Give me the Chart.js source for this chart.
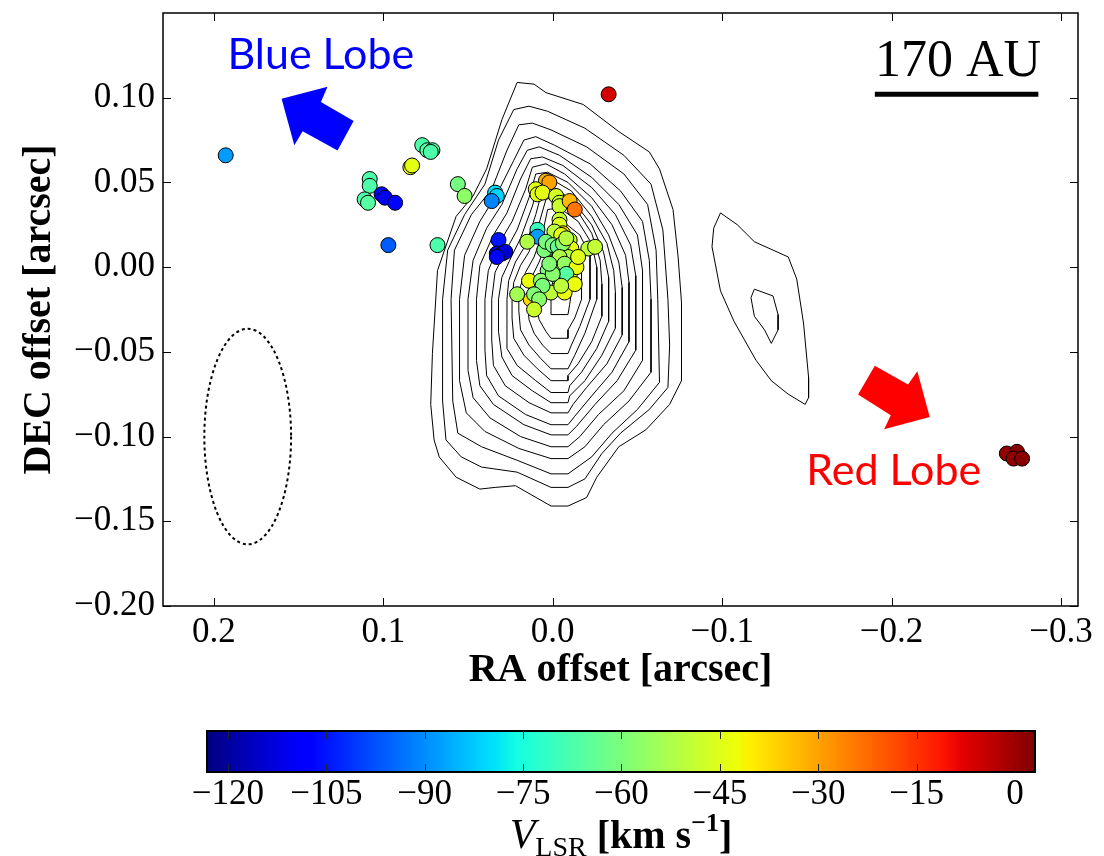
<!DOCTYPE html>
<html>
<head>
<meta charset="utf-8">
<script src="https://cdn.jsdelivr.net/npm/chart.js@4.4.1/dist/chart.umd.min.js"></script>
<style>
  html, body { margin: 0; padding: 0; background: #fff; }
  #wrap { position: relative; width: 1104px; height: 856px; }
  #main { position: absolute; left: 0; top: 0; }
  #cbar { position: absolute; left: 0; top: 700px; }
</style>
</head>
<body>
<div id="wrap">
  <canvas id="main" width="1104" height="700"></canvas>
  <canvas id="cbar" width="1104" height="156"></canvas>
</div>
<script>
// axis ticks
const xTicks = [0.2, 0.1, 0.0, -0.1, -0.2, -0.3];
const xTickLabels = ['0.2', '0.1', '0.0', '\u22120.1', '\u22120.2', '\u22120.3'];
const yTicks = [0.10, 0.05, 0.00, -0.05, -0.10, -0.15, -0.20];
const yTickLabels = ['0.10', '0.05', '0.00', '\u22120.05', '\u22120.10', '\u22120.15', '\u22120.20'];
const velTicks = [-120, -105, -90, -75, -60, -45, -30, -15, 0];
const velTickLabels = ['\u2212120', '\u2212105', '\u221290', '\u221275', '\u221260', '\u221245', '\u221230', '\u221215', '0'];

// colour range of V_LSR [km/s]
const VMIN = -123.2, VMAX = 3.05;

// maser spots: RA offset, DEC offset [arcsec], V_LSR [km/s]
const spotRA = [0.193, 0.108, 0.108, 0.111, 0.109, 0.101, 0.099, 0.093, 0.097, 0.068,
  0.084, 0.083, 0.077, 0.074, 0.071, 0.072, 0.056, 0.052, 0.034, 0.033,
  0.036, 0.032, 0.033, 0.030, 0.028, 0.033, 0.004, 0.002, 0.010, 0.009,
  0.006, -0.002, -0.004, -0.004, -0.010, -0.013, -0.004, -0.004, -0.006,
  -0.001, -0.005, -0.010, -0.011, -0.009, -0.001, -0.006, -0.010, -0.003, 0.003, 0.001, -0.007, 0.005,
  0.009, 0.009, 0.015, 0.004, 0.000, -0.003, -0.006, -0.008, -0.021, -0.025, -0.004,
  -0.007, -0.014, -0.015, -0.008, -0.013, -0.005, 0.014, 0.013, 0.007, 0.006,
  0.011, 0.008, 0.021, 0.011, 0.000, 0.002, -0.033, -0.268, -0.274, -0.272, -0.277];
const spotDEC = [0.066, 0.052, 0.048, 0.040, 0.038, 0.043, 0.041, 0.038, 0.013, 0.013,
  0.059, 0.060, 0.072, 0.069, 0.069, 0.068, 0.049, 0.042, 0.044, 0.042,
  0.039, 0.016, 0.008, 0.008, 0.009, 0.006, 0.051, 0.050, 0.046, 0.043,
  0.044, 0.042, 0.038, 0.036, 0.039, 0.034, 0.028, 0.025, 0.020,
  0.021, 0.019, 0.016, 0.011, 0.006, 0.003, 0.000, -0.005, -0.006, -0.002, -0.015, -0.015, 0.010,
  0.022, 0.018, 0.015, 0.015, 0.013, 0.012, 0.014, 0.017, 0.011, 0.012, 0.006,
  0.002, 0.000, 0.006, -0.004, -0.010, -0.011, -0.008, -0.019, -0.008, -0.011,
  -0.016, -0.019, -0.016, -0.025, -0.004, 0.002, 0.102, -0.110, -0.109, -0.113, -0.113];
const spotVel = [-88, -67, -67, -67, -66, -109, -110, -107, -96, -67,
  -43, -44, -67, -66, -66, -67, -61, -57, -80, -81,
  -91, -105, -112, -113, -114, -108, -32, -30, -44, -45,
  -44, -47, -49, -48, -33, -24, -49, -45, -37,
  -50, -44, -49, -44, -51, -58, -53, -44, -59, -60, -50, -43, -60,
  -70, -88, -52, -61, -60, -64, -58, -51, -50, -49, -52,
  -56, -43, -45, -66, -43, -50, -43, -37, -58, -60,
  -59, -58, -54, -48, -58, -59, -6, 1, 2, 1, 2];

// continuum contours around the core [RA, DEC]
const coreContours = [
  [[0.021,0.109],[0.011,0.108],[0.004,0.103],[-0.018,0.096],[-0.039,0.080],[-0.057,0.068],[-0.063,0.058],[-0.071,0.034],[-0.074,0.006],[-0.076,-0.021],[-0.076,-0.067],[-0.069,-0.081],[-0.055,-0.096],[-0.039,-0.106],[-0.026,-0.124],[-0.020,-0.136],[-0.009,-0.141],[0.001,-0.141],[0.022,-0.129],[0.034,-0.130],[0.043,-0.131],[0.057,-0.124],[0.067,-0.112],[0.070,-0.102],[0.072,-0.081],[0.071,-0.051],[0.068,-0.002],[0.057,0.030],[0.047,0.042],[0.039,0.058],[0.030,0.087]],
  [[0.023,0.093],[0.014,0.095],[0.003,0.092],[-0.019,0.082],[-0.042,0.066],[-0.058,0.049],[-0.065,0.022],[-0.068,-0.019],[-0.069,-0.046],[-0.068,-0.071],[-0.057,-0.084],[-0.040,-0.098],[-0.029,-0.110],[-0.019,-0.125],[-0.009,-0.130],[0.001,-0.130],[0.021,-0.121],[0.042,-0.118],[0.054,-0.112],[0.063,-0.102],[0.065,-0.079],[0.065,-0.019],[0.062,0.010],[0.052,0.031],[0.040,0.049],[0.032,0.075]],
  [[0.020,0.084],[0.012,0.085],[0.001,0.081],[-0.020,0.071],[-0.042,0.055],[-0.056,0.037],[-0.061,0.010],[-0.062,-0.019],[-0.063,-0.068],[-0.050,-0.084],[-0.035,-0.098],[-0.023,-0.112],[-0.009,-0.122],[0.001,-0.122],[0.021,-0.114],[0.042,-0.106],[0.056,-0.098],[0.059,-0.079],[0.060,-0.019],[0.058,0.010],[0.048,0.031],[0.036,0.046],[0.027,0.069]],
  [[0.017,0.075],[0.010,0.077],[-0.001,0.072],[-0.022,0.061],[-0.040,0.045],[-0.053,0.027],[-0.057,0.004],[-0.058,-0.019],[-0.058,-0.062],[-0.045,-0.079],[-0.030,-0.093],[-0.019,-0.106],[-0.009,-0.113],[0.001,-0.113],[0.020,-0.107],[0.040,-0.097],[0.051,-0.086],[0.055,-0.067],[0.055,-0.019],[0.052,0.007],[0.043,0.027],[0.033,0.043],[0.023,0.063]],
  [[0.015,0.069],[0.008,0.071],[-0.004,0.066],[-0.023,0.053],[-0.039,0.037],[-0.050,0.019],[-0.053,-0.002],[-0.053,-0.019],[-0.053,-0.055],[-0.042,-0.073],[-0.027,-0.087],[-0.016,-0.100],[-0.009,-0.106],[0.001,-0.106],[0.019,-0.100],[0.037,-0.089],[0.047,-0.077],[0.050,-0.061],[0.050,-0.019],[0.047,0.004],[0.039,0.023],[0.030,0.037],[0.021,0.058]],
  [[0.013,0.064],[0.006,0.065],[-0.006,0.060],[-0.023,0.047],[-0.037,0.031],[-0.046,0.013],[-0.049,-0.005],[-0.049,-0.019],[-0.049,-0.049],[-0.038,-0.067],[-0.025,-0.081],[-0.014,-0.094],[-0.009,-0.099],[0.001,-0.099],[0.017,-0.093],[0.035,-0.081],[0.043,-0.070],[0.045,-0.055],[0.045,-0.019],[0.043,0.001],[0.035,0.019],[0.027,0.032],[0.019,0.052]],
  [[0.012,0.059],[0.004,0.061],[-0.007,0.055],[-0.023,0.041],[-0.035,0.025],[-0.043,0.007],[-0.045,-0.009],[-0.045,-0.019],[-0.045,-0.044],[-0.035,-0.062],[-0.023,-0.076],[-0.013,-0.088],[-0.009,-0.093],[0.001,-0.093],[0.016,-0.087],[0.032,-0.076],[0.039,-0.064],[0.040,-0.049],[0.040,-0.019],[0.038,-0.002],[0.031,0.015],[0.024,0.027],[0.016,0.046]],
  [[0.010,0.055],[0.003,0.056],[-0.009,0.050],[-0.023,0.036],[-0.033,0.019],[-0.039,0.003],[-0.041,-0.012],[-0.041,-0.019],[-0.041,-0.040],[-0.032,-0.057],[-0.020,-0.071],[-0.012,-0.081],[-0.009,-0.086],[0.001,-0.086],[0.014,-0.080],[0.028,-0.070],[0.035,-0.058],[0.036,-0.043],[0.036,-0.019],[0.034,-0.003],[0.027,0.011],[0.021,0.022],[0.014,0.041]],
  [[0.008,0.050],[0.001,0.052],[-0.011,0.045],[-0.023,0.030],[-0.032,0.014],[-0.036,-0.002],[-0.037,-0.015],[-0.037,-0.019],[-0.037,-0.036],[-0.029,-0.052],[-0.019,-0.067],[-0.010,-0.076],[-0.009,-0.080],[0.001,-0.080],[0.012,-0.073],[0.024,-0.064],[0.030,-0.053],[0.032,-0.038],[0.032,-0.019],[0.030,-0.006],[0.024,0.007],[0.019,0.017],[0.012,0.036]],
  [[0.006,0.046],[-0.001,0.047],[-0.012,0.039],[-0.023,0.025],[-0.030,0.009],[-0.033,-0.006],[-0.033,-0.019],[-0.033,-0.032],[-0.026,-0.048],[-0.017,-0.062],[-0.010,-0.070],[-0.009,-0.074],[0.001,-0.074],[0.010,-0.067],[0.021,-0.058],[0.027,-0.048],[0.027,-0.034],[0.027,-0.019],[0.026,-0.008],[0.022,0.003],[0.016,0.013],[0.010,0.031]],
  [[0.004,0.040],[-0.003,0.042],[-0.014,0.034],[-0.023,0.020],[-0.028,0.004],[-0.029,-0.010],[-0.029,-0.019],[-0.029,-0.029],[-0.023,-0.044],[-0.015,-0.057],[-0.009,-0.064],[-0.009,-0.067],[0.001,-0.067],[0.009,-0.060],[0.017,-0.052],[0.023,-0.042],[0.024,-0.030],[0.024,-0.019],[0.023,-0.009],[0.019,0.001],[0.014,0.009],[0.008,0.026]],
  [[0.003,0.034],[-0.004,0.035],[-0.015,0.027],[-0.023,0.014],[-0.026,0.000],[-0.026,-0.019],[-0.019,-0.039],[-0.013,-0.052],[-0.009,-0.060],[0.001,-0.060],[0.007,-0.054],[0.014,-0.046],[0.019,-0.037],[0.020,-0.026],[0.020,-0.019],[0.019,-0.011],[0.016,-0.003],[0.011,0.006],[0.006,0.020]],
  [[0.000,0.026],[-0.006,0.027],[-0.016,0.019],[-0.022,0.007],[-0.022,-0.008],[-0.022,-0.019],[-0.016,-0.035],[-0.011,-0.046],[-0.009,-0.051],[0.001,-0.051],[0.006,-0.046],[0.011,-0.039],[0.014,-0.031],[0.015,-0.019],[0.014,-0.012],[0.012,-0.005],[0.008,0.003],[0.004,0.014]],
  [[-0.002,0.015],[-0.008,0.016],[-0.015,0.009],[-0.017,-0.002],[-0.017,-0.019],[-0.013,-0.030],[-0.009,-0.037],[-0.009,-0.042],[0.001,-0.042],[0.004,-0.038],[0.008,-0.031],[0.010,-0.022],[0.011,-0.019],[0.010,-0.010],[0.007,-0.003],[0.001,0.006]],
  [[0.000,-0.009],[-0.007,-0.008],[-0.011,-0.015],[-0.010,-0.022],[-0.009,-0.028],[0.001,-0.028],[0.001,-0.019],[0.001,-0.013]]
];
// weaker emission to the west
const westContours = [
  [[-0.099,0.032],[-0.109,0.025],[-0.119,0.015],[-0.139,0.006],[-0.144,-0.007],[-0.148,-0.033],[-0.151,-0.065],[-0.151,-0.077],[-0.149,-0.081],[-0.144,-0.078],[-0.139,-0.075],[-0.129,-0.067],[-0.120,-0.055],[-0.107,-0.032],[-0.099,-0.014],[-0.094,0.012],[-0.095,0.023]],
  [[-0.119,-0.013],[-0.130,-0.017],[-0.133,-0.028],[-0.133,-0.037],[-0.129,-0.045],[-0.125,-0.037],[-0.119,-0.029],[-0.117,-0.018]]
];

// annotations (data coordinates)
const beamCenter = [0.180, -0.100];
const beamSemiAxes = [0.0256, 0.0636];
const blueArrow = [[0.160,0.0994],[0.1329,0.1065],[0.1368,0.0974],[0.1175,0.0862],[0.127,0.0688],[0.1476,0.0802],[0.1525,0.072]];
const redArrow = [[-0.1901,-0.0582],[-0.2097,-0.0692],[-0.2152,-0.0614],[-0.2225,-0.0884],[-0.1956,-0.0957],[-0.1995,-0.0874],[-0.1802,-0.0751]];
const scaleBar = [[-0.1901, 0.102], [-0.2866, 0.102]];

const JET = {
  r: [[0, 0], [0.35, 0], [0.66, 1], [0.89, 1], [1, 0.5]],
  g: [[0, 0], [0.125, 0], [0.375, 1], [0.64, 1], [0.91, 0], [1, 0]],
  b: [[0, 0.5], [0.11, 1], [0.34, 1], [0.65, 0], [1, 0]]
};

function interp(stops, t) {
  for (let i = 1; i < stops.length; i++) {
    if (t <= stops[i][0]) {
      const [t0, v0] = stops[i - 1], [t1, v1] = stops[i];
      return v0 + (v1 - v0) * (t - t0) / (t1 - t0);
    }
  }
  return stops[stops.length - 1][1];
}

function jet(t) {
  t = Math.min(1, Math.max(0, t));
  const c = k => Math.round(255 * interp(JET[k], t));
  return `rgb(${c('r')},${c('g')},${c('b')})`;
}

function velColor(v) {
  return jet((v - VMIN) / (VMAX - VMIN));
}

const SERIF = '"Liberation Serif", "Times New Roman", serif';

const contourSets = coreContours.concat(westContours).map(poly => ({
  data: poly.concat([poly[0]]).map(([x, y]) => ({x, y})),
  showLine: true,
  borderColor: '#000',
  borderWidth: 1,
  pointRadius: 0,
  pointHoverRadius: 0,
  tension: 0,
  fill: false,
  order: 2
}));

const spotSet = {
  data: spotRA.map((x, i) => ({x, y: spotDEC[i]})),
  pointRadius: 7.5,
  pointHoverRadius: 7.5,
  pointBorderWidth: 1,
  pointBorderColor: '#000',
  pointBackgroundColor: c => velColor(spotVel[c.dataIndex]),
  order: 0
};

// Frame, inward ticks and annotations
const mainFrame = {
  id: 'mainFrame',
  afterDatasetsDraw(chart) {
    const {ctx, chartArea: a, scales: {x, y}} = chart;
    const px = v => x.getPixelForValue(v);
    const py = v => y.getPixelForValue(v);
    ctx.save();

    // beam
    ctx.beginPath();
    ctx.ellipse(px(beamCenter[0]), py(beamCenter[1]),
      Math.abs(px(beamCenter[0] + beamSemiAxes[0]) - px(beamCenter[0])),
      Math.abs(py(beamCenter[1] + beamSemiAxes[1]) - py(beamCenter[1])),
      0, 0, 2 * Math.PI);
    ctx.setLineDash([3, 3]);
    ctx.lineWidth = 2;
    ctx.strokeStyle = '#000';
    ctx.stroke();
    ctx.setLineDash([]);

    // lobe arrows
    [[blueArrow, '#0000ff'], [redArrow, '#ff0000']].forEach(([poly, col]) => {
      ctx.beginPath();
      poly.forEach(([u, v], i) => i ? ctx.lineTo(px(u), py(v)) : ctx.moveTo(px(u), py(v)));
      ctx.closePath();
      ctx.fillStyle = col;
      ctx.fill();
    });

    ctx.font = '43px Lato, "Liberation Sans", sans-serif';
    ctx.textAlign = 'left';
    ctx.textBaseline = 'alphabetic';
    ctx.fillStyle = '#0000ff';
    ctx.fillText('Blue Lobe', px(0.192), py(0.1167));
    ctx.fillStyle = '#ff0000';
    ctx.fillText('Red Lobe', px(-0.1496), py(-0.1288));

    // scale bar
    ctx.beginPath();
    ctx.moveTo(px(scaleBar[0][0]), py(scaleBar[0][1]));
    ctx.lineTo(px(scaleBar[1][0]), py(scaleBar[1][1]));
    ctx.lineWidth = 5;
    ctx.strokeStyle = '#000';
    ctx.stroke();
    ctx.font = '52px ' + SERIF;
    ctx.textAlign = 'center';
    ctx.fillStyle = '#000';
    ctx.fillText('170 AU', px(-0.2392), py(0.1126));

    // frame
    ctx.lineWidth = 1.5;
    ctx.strokeRect(a.left, a.top, a.right - a.left, a.bottom - a.top);
    ctx.lineWidth = 1;
    ctx.beginPath();
    xTicks.forEach(v => {
      const p = Math.round(px(v)) + 0.5;
      ctx.moveTo(p, a.bottom); ctx.lineTo(p, a.bottom - 8);
      ctx.moveTo(p, a.top); ctx.lineTo(p, a.top + 8);
    });
    yTicks.forEach(v => {
      const p = Math.round(py(v)) + 0.5;
      ctx.moveTo(a.left, p); ctx.lineTo(a.left + 8, p);
      ctx.moveTo(a.right, p); ctx.lineTo(a.right - 8, p);
    });
    ctx.stroke();
    ctx.restore();
  }
};

new Chart(document.getElementById('main'), {
  type: 'scatter',
  data: { datasets: [spotSet].concat(contourSets) },
  options: {
    responsive: false,
    animation: false,
    events: [],
    layout: { padding: { top: 13, right: 26, left: 0, bottom: 0 } },
    plugins: { legend: { display: false }, tooltip: { enabled: false } },
    scales: {
      x: {
        type: 'linear',
        reverse: true,
        min: -0.31,
        max: 0.23,
        afterBuildTicks: s => { s.ticks = xTicks.map(v => ({value: v})); },
        afterFit: s => { s.height = 94; s.paddingLeft = 0; s.paddingRight = 0; },
        grid: { display: false, drawTicks: false },
        border: { display: false },
        ticks: {
          autoSkip: false, maxRotation: 0, minRotation: 0, padding: 6,
          color: '#000',
          font: { family: SERIF, size: 35 },
          callback: (v, i) => xTickLabels[i]
        },
        title: {
          display: true, text: 'RA offset [arcsec]', color: '#000',
          font: { family: SERIF, size: 40, weight: 'bold' },
          padding: { top: 0, bottom: 5 }
        }
      },
      y: {
        type: 'linear',
        min: -0.20,
        max: 0.15,
        afterBuildTicks: s => { s.ticks = yTicks.map(v => ({value: v})); },
        afterFit: s => { s.width = 163; s.paddingTop = 0; s.paddingBottom = 0; },
        grid: { display: false, drawTicks: false },
        border: { display: false },
        ticks: {
          autoSkip: false, padding: 8,
          color: '#000',
          font: { family: SERIF, size: 35 },
          callback: (v, i) => yTickLabels[i]
        },
        title: {
          display: true, text: 'DEC offset [arcsec]', color: '#000',
          font: { family: SERIF, size: 40, weight: 'bold' },
          padding: { top: 16, bottom: 0 }
        }
      }
    }
  },
  plugins: [mainFrame]
});

// Colour bar
const cbarPaint = {
  id: 'cbarPaint',
  beforeDatasetsDraw(chart) {
    const {ctx, chartArea: a, scales: {x}} = chart;
    const g = ctx.createLinearGradient(a.left, 0, a.right, 0);
    for (let i = 0; i <= 128; i++) {
      const v = VMIN + (VMAX - VMIN) * i / 128;
      const off = (x.getPixelForValue(v) - a.left) / (a.right - a.left);
      g.addColorStop(Math.min(1, Math.max(0, off)), velColor(v));
    }
    ctx.save();
    ctx.fillStyle = g;
    ctx.fillRect(a.left, a.top, a.right - a.left, a.bottom - a.top);
    ctx.restore();
  },
  afterDraw(chart) {
    const {ctx, chartArea: a, scales: {x}} = chart;
    ctx.save();
    ctx.strokeStyle = '#000';
    ctx.lineWidth = 2;
    ctx.strokeRect(a.left, a.top, a.right - a.left, a.bottom - a.top);
    ctx.strokeStyle = '#222';
    ctx.lineWidth = 1;
    ctx.beginPath();
    velTicks.forEach(v => {
      const p = Math.round(x.getPixelForValue(v)) + 0.5;
      ctx.moveTo(p, a.top); ctx.lineTo(p, a.top + 8);
      ctx.moveTo(p, a.bottom); ctx.lineTo(p, a.bottom - 8);
    });
    ctx.stroke();

    // V_LSR [km s^-1]
    const parts = [
      {t: 'V', f: 'italic 42px ' + SERIF, dy: 0},
      {t: 'LSR', f: '28px ' + SERIF, dy: 8},
      {t: ' [km s', f: 'bold 40px ' + SERIF, dy: 0},
      {t: '\u22121', f: 'bold 26px ' + SERIF, dy: -17},
      {t: ']', f: 'bold 40px ' + SERIF, dy: 0}
    ];
    let total = 0;
    parts.forEach(p => { ctx.font = p.f; p.w = ctx.measureText(p.t).width; total += p.w; });
    let cx = 621 - total / 2;
    const base = 148;
    ctx.fillStyle = '#000';
    ctx.textAlign = 'left';
    ctx.textBaseline = 'alphabetic';
    parts.forEach(p => { ctx.font = p.f; ctx.fillText(p.t, cx, base + p.dy); cx += p.w; });
    ctx.restore();
  }
};

new Chart(document.getElementById('cbar'), {
  type: 'scatter',
  data: { datasets: [] },
  options: {
    responsive: false,
    animation: false,
    events: [],
    layout: { padding: { top: 31, right: 69, left: 207, bottom: 0 } },
    plugins: { legend: { display: false }, tooltip: { enabled: false } },
    scales: {
      x: {
        type: 'linear',
        min: VMIN,
        max: VMAX,
        afterBuildTicks: s => { s.ticks = velTicks.map(v => ({value: v})); },
        afterFit: s => { s.height = 84; s.paddingLeft = 0; s.paddingRight = 0; },
        grid: { display: false, drawTicks: false },
        border: { display: false },
        ticks: {
          autoSkip: false, maxRotation: 0, minRotation: 0, padding: 2,
          color: '#000',
          font: { family: SERIF, size: 35 },
          callback: (v, i) => velTickLabels[i]
        }
      },
      y: { display: false, min: 0, max: 1 }
    }
  },
  plugins: [cbarPaint]
});
</script>
</body>
</html>
